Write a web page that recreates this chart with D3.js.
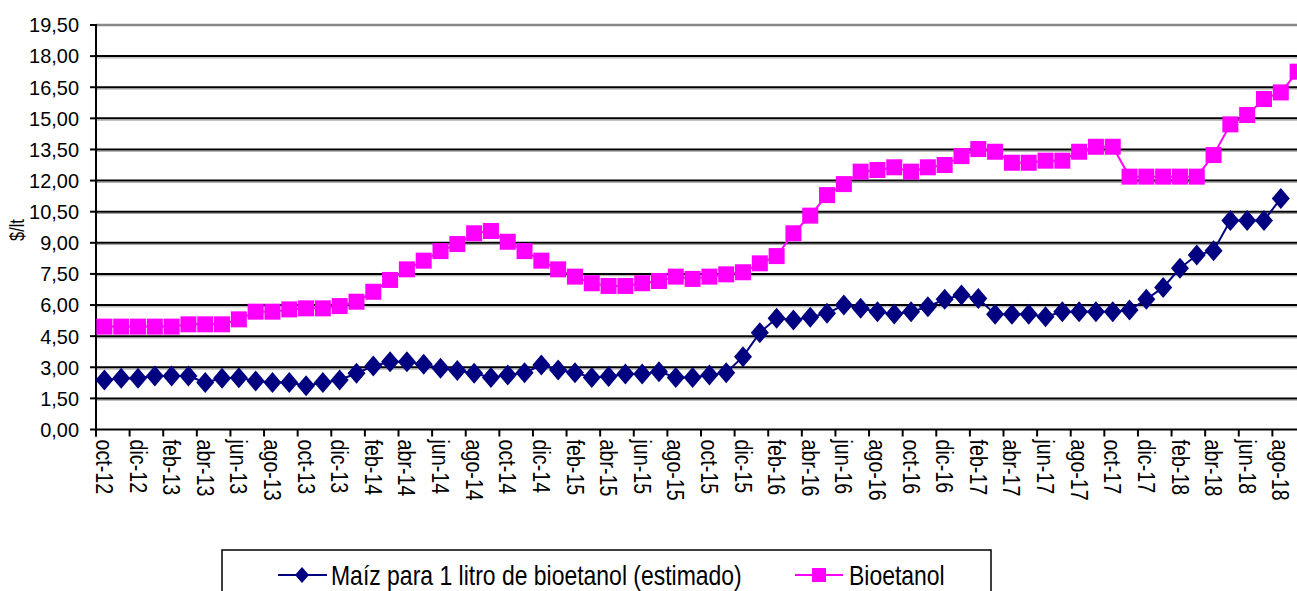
<!DOCTYPE html>
<html lang="es">
<head>
<meta charset="utf-8">
<title>Maíz y bioetanol $/lt</title>
<script src="https://d3js.org/d3.v7.min.js"></script>
<style>
  body { margin: 0; background: white; }
  svg { display: block; font-family: "Liberation Sans", Arial, sans-serif; }
  .grid { stroke: black; stroke-width: 2; }
  .grid-shadow { stroke: #a0a0a0; stroke-width: 1; }
  .tick-label { font-size: 21px; fill: black; }
  .month-label { font-size: 24px; fill: black; }
  .legend-text { font-size: 28px; fill: black; }
</style>
</head>
<body>
<script>
// months, oct-12 .. sep-18
var months = ["oct-12","nov-12","dic-12","ene-13","feb-13","mar-13","abr-13","may-13","jun-13","jul-13","ago-13","sep-13",
  "oct-13","nov-13","dic-13","ene-14","feb-14","mar-14","abr-14","may-14","jun-14","jul-14","ago-14","sep-14",
  "oct-14","nov-14","dic-14","ene-15","feb-15","mar-15","abr-15","may-15","jun-15","jul-15","ago-15","sep-15",
  "oct-15","nov-15","dic-15","ene-16","feb-16","mar-16","abr-16","may-16","jun-16","jul-16","ago-16","sep-16",
  "oct-16","nov-16","dic-16","ene-17","feb-17","mar-17","abr-17","may-17","jun-17","jul-17","ago-17","sep-17",
  "oct-17","nov-17","dic-17","ene-18","feb-18","mar-18","abr-18","may-18","jun-18","jul-18","ago-18","sep-18"];

// maíz para 1 litro de bioetanol (estimado), oct-12 .. ago-18
var maiz = [2.39,2.47,2.47,2.58,2.58,2.58,2.27,2.47,2.50,2.34,2.27,2.27,
  2.11,2.27,2.39,2.71,3.06,3.27,3.27,3.14,2.95,2.84,2.71,2.51,
  2.63,2.74,3.11,2.87,2.74,2.51,2.55,2.67,2.67,2.79,2.51,2.51,
  2.63,2.74,3.51,4.67,5.36,5.28,5.41,5.60,6.00,5.84,5.68,5.57,
  5.68,5.92,6.28,6.48,6.32,5.55,5.55,5.55,5.44,5.68,5.68,5.68,
  5.68,5.76,6.28,6.85,7.77,8.41,8.62,10.07,10.07,10.07,11.14];

// bioetanol, oct-12 .. sep-18
var bioetanol = [4.96,4.96,4.96,4.96,4.96,5.07,5.07,5.07,5.31,5.68,5.68,5.79,
  5.84,5.84,5.95,6.16,6.64,7.21,7.72,8.14,8.60,8.94,9.46,9.57,
  9.05,8.60,8.14,7.72,7.37,7.05,6.92,6.92,7.05,7.16,7.37,7.26,
  7.37,7.48,7.58,8.01,8.36,9.46,10.31,11.30,11.83,12.43,12.51,12.64,
  12.43,12.64,12.75,13.18,13.52,13.39,12.86,12.86,12.96,12.96,13.39,13.63,
  13.63,12.19,12.19,12.19,12.19,12.19,13.23,14.71,15.16,15.93,16.25,17.25];

var yTicks = d3.range(0, 19.51, 1.5);

var W = 1297, H = 591;
var plotLeft = 96, plotTop = 25, plotBottom = 429.5, plotRight = 1306;
var narrow = 0.82; // no narrow font installed, squeeze Liberation Sans

var svg = d3.select("body").append("svg")
    .attr("width", W)
    .attr("height", H);

var x = d3.scaleBand().domain(months).range([plotLeft, plotRight]).padding(0);
var y = d3.scaleLinear().domain([0, 19.5]).range([plotBottom, plotTop]);
var cx = function (m) { return x(m) + x.bandwidth() / 2; };

// gridlines
var grid = svg.append("g");
yTicks.forEach(function (v) {
    if (v === 0) return;
    if (v === 19.5) {
        grid.append("line")
            .attr("x1", plotLeft).attr("x2", W)
            .attr("y1", y(v)).attr("y2", y(v))
            .attr("stroke", "#888").attr("stroke-width", 2.5);
        return;
    }
    grid.append("line").attr("class", "grid-shadow")
        .attr("x1", plotLeft).attr("x2", W)
        .attr("y1", y(v) + 1.8).attr("y2", y(v) + 1.8);
    grid.append("line").attr("class", "grid")
        .attr("x1", plotLeft).attr("x2", W)
        .attr("y1", y(v)).attr("y2", y(v));
});

// y axis
var yAxis = svg.append("g");
yAxis.append("line")
    .attr("x1", plotLeft).attr("x2", plotLeft)
    .attr("y1", plotTop - 1).attr("y2", plotBottom + 7)
    .attr("stroke", "black").attr("stroke-width", 2);
yTicks.forEach(function (v) {
    yAxis.append("line")
        .attr("x1", plotLeft - 6).attr("x2", plotLeft)
        .attr("y1", y(v)).attr("y2", y(v))
        .attr("stroke", "black").attr("stroke-width", 2);
    yAxis.append("text").attr("class", "tick-label")
        .attr("transform", "translate(" + (plotLeft - 17) + "," + y(v) + ") scale(0.95,1)")
        .attr("dy", "0.35em")
        .attr("text-anchor", "end")
        .text(d3.format(".2f")(v).replace(".", ","));
});

svg.append("text")
    .attr("transform", "translate(24,230) rotate(-90) scale(" + narrow + ",1)")
    .attr("text-anchor", "middle")
    .attr("font-size", 20)
    .text("$/lt");

// x axis
var xAxis = svg.append("g");
xAxis.append("line")
    .attr("x1", plotLeft).attr("x2", W)
    .attr("y1", plotBottom).attr("y2", plotBottom)
    .attr("stroke", "black").attr("stroke-width", 2);
months.forEach(function (m, i) {
    if (i % 2 !== 0) return;
    xAxis.append("line")
        .attr("x1", x(m)).attr("x2", x(m))
        .attr("y1", plotBottom).attr("y2", plotBottom + 7)
        .attr("stroke", "black").attr("stroke-width", 2);
    xAxis.append("text").attr("class", "month-label")
        .attr("transform", "translate(" + cx(m) + "," + (plotBottom + 10) + ") rotate(90) scale(" + narrow + ",1)")
        .attr("dy", "0.35em")
        .text(m);
});

// series
var line = d3.line()
    .x(function (d, i) { return cx(months[i]); })
    .y(function (d) { return y(d); });

var diamond = function (w, h) {
    return "M0," + (-h) + "L" + w + ",0L0," + h + "L" + (-w) + ",0Z";
};

svg.append("path")
    .attr("d", line(bioetanol))
    .attr("fill", "none")
    .attr("stroke", "#ff00ff")
    .attr("stroke-width", 2);
svg.append("g").selectAll("rect")
    .data(bioetanol).enter()
    .append("rect")
    .attr("x", function (d, i) { return cx(months[i]) - 8; })
    .attr("y", function (d) { return y(d) - 8; })
    .attr("width", 16).attr("height", 16)
    .attr("fill", "#ff00ff");

svg.append("path")
    .attr("d", line(maiz))
    .attr("fill", "none")
    .attr("stroke", "#000080")
    .attr("stroke-width", 2);
svg.append("g").selectAll("path")
    .data(maiz).enter()
    .append("path")
    .attr("transform", function (d, i) { return "translate(" + cx(months[i]) + "," + y(d) + ")"; })
    .attr("d", diamond(9, 10.5))
    .attr("fill", "#000080");

// legend
var legend = svg.append("g");
legend.append("rect")
    .attr("x", 222).attr("y", 550)
    .attr("width", 769).attr("height", 60)
    .attr("fill", "white")
    .attr("stroke", "black").attr("stroke-width", 1.5);

legend.append("line")
    .attr("x1", 278).attr("x2", 327).attr("y1", 575).attr("y2", 575)
    .attr("stroke", "#000080").attr("stroke-width", 2);
legend.append("path")
    .attr("transform", "translate(302,575)")
    .attr("d", diamond(7, 8))
    .attr("fill", "#000080");
legend.append("text").attr("class", "legend-text")
    .attr("transform", "translate(331,585) scale(" + narrow + ",1)")
    .text("Maíz para 1 litro de bioetanol (estimado)");

legend.append("line")
    .attr("x1", 795).attr("x2", 843).attr("y1", 575).attr("y2", 575)
    .attr("stroke", "#ff00ff").attr("stroke-width", 2);
legend.append("rect")
    .attr("x", 812).attr("y", 568)
    .attr("width", 14).attr("height", 14)
    .attr("fill", "#ff00ff");
legend.append("text").attr("class", "legend-text")
    .attr("transform", "translate(849,585) scale(" + narrow + ",1)")
    .text("Bioetanol");
</script>
</body>
</html>
